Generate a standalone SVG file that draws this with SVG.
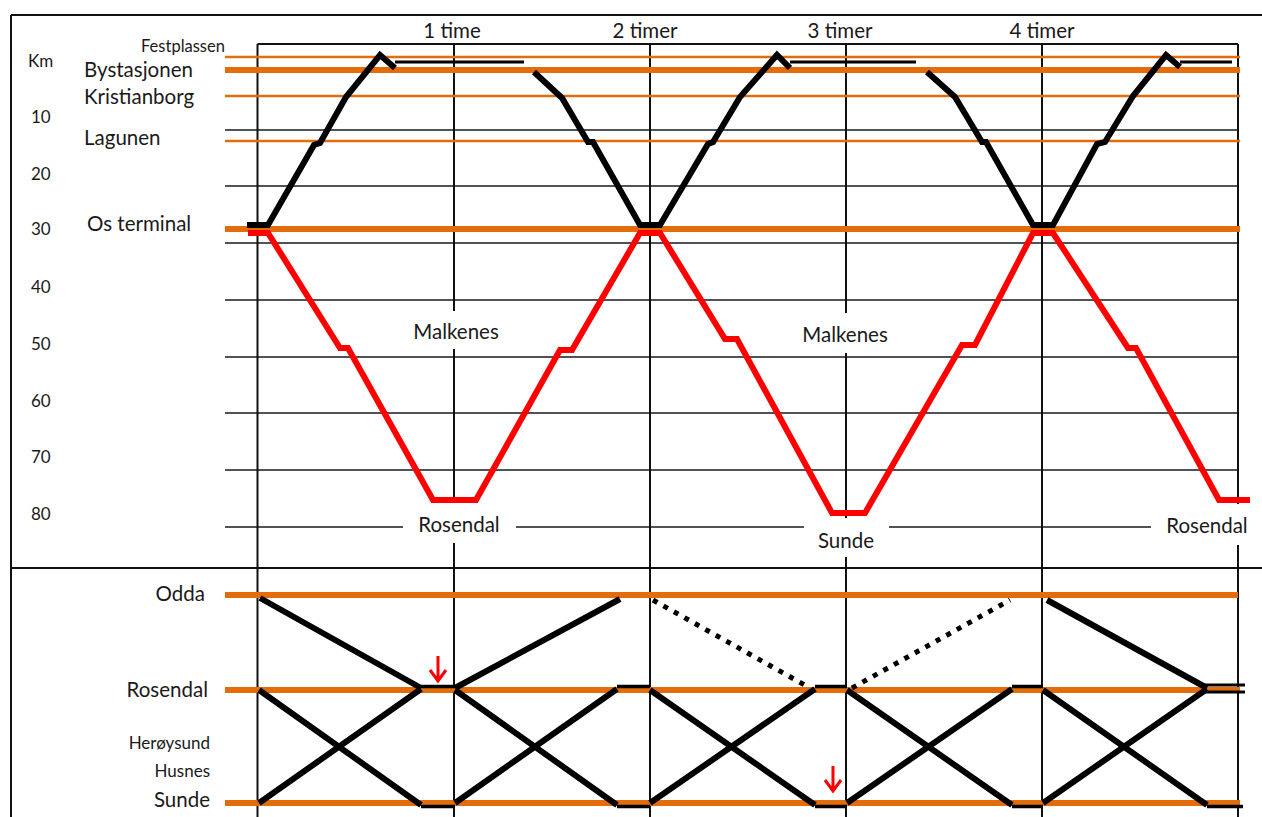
<svg xmlns="http://www.w3.org/2000/svg" width="1262" height="817" viewBox="0 0 1262 817">
<style>
text{font-family:Lato,"Liberation Sans",sans-serif;fill:#1a1a1a}
.l{font-size:20.5px}
.s{font-size:17px}
.m{text-anchor:middle}
.e{text-anchor:end}
.g{stroke:#1a1a1a;stroke-width:1.5;fill:none}
.v{stroke:#111;stroke-width:2;fill:none}
.ot{stroke:#E46C0A;stroke-width:2.5;fill:none}
.oT{stroke:#E46C0A;stroke-width:6;fill:none}
.bk{stroke:#000;stroke-width:6;fill:none;stroke-linejoin:miter}
.bt{stroke:#000;stroke-width:3;fill:none}
.bh{stroke:#000;stroke-width:3.5;fill:none}
.rd{stroke:#FF0000;stroke-width:6;fill:none;stroke-linejoin:miter}
.dot{stroke:#000;stroke-width:5;fill:none;stroke-dasharray:5 7}
.ar{stroke:#FF0000;stroke-width:3;fill:none}
</style>
<rect width="1262" height="817" fill="#fff"/>
<g id="frame">
<path class="v" d="M11,15 H1262 M11,15 V817 M11,568 H1262 M257.5,44 H1238"/>
</g>
<g id="grid">
<path class="g" d="M225,130 H1238 M225,186 H1238 M225,243 H1238 M225,300 H1238 M225,357 H1238 M225,413 H1238 M225,470 H1238 M225,527 H1238"/>
<path class="v" d="M257.5,44 V817 M454,44 V817 M650,44 V817 M846,44 V817 M1042,44 V817 M1238,44 V817"/>
</g>
<g id="labelboxes" fill="#fff">
<rect x="405" y="311" width="100" height="38"/>
<rect x="403" y="503" width="113" height="40"/>
<rect x="795" y="313" width="100" height="40"/>
<rect x="804" y="518" width="85" height="39"/>
<rect x="1151" y="504" width="111" height="41"/>
</g>
<g id="axis-labels">
<text class="s" x="28" y="67">Km</text>
<text class="s" x="31" y="123">10</text>
<text class="s" x="31" y="180">20</text>
<text class="s" x="31" y="235">30</text>
<text class="s" x="31" y="293">40</text>
<text class="s" x="31" y="350">50</text>
<text class="s" x="31" y="407">60</text>
<text class="s" x="31" y="463">70</text>
<text class="s" x="31" y="520">80</text>
<text class="l m" x="452" y="38">1 time</text>
<text class="l m" x="645" y="38">2 timer</text>
<text class="l m" x="840" y="38">3 timer</text>
<text class="l m" x="1042" y="38">4 timer</text>
</g>
<g id="stops-top">
<text x="141" y="52" style="font-size:16.5px">Festplassen</text>
<text class="l" x="84" y="77">Bystasjonen</text>
<text class="l" x="84" y="104">Kristianborg</text>
<text class="l" x="84" y="145">Lagunen</text>
<text class="l" x="87" y="231">Os terminal</text>
<text class="l m" x="456" y="339">Malkenes</text>
<text class="l m" x="845" y="342">Malkenes</text>
<text class="l m" x="459" y="532">Rosendal</text>
<text class="l m" x="846" y="548">Sunde</text>
<text class="l m" x="1207" y="533">Rosendal</text>
</g>
<g id="stops-bottom">
<text class="l e" x="205" y="601">Odda</text>
<text class="l e" x="208" y="697">Rosendal</text>
<text class="s e" x="210" y="749">Herøysund</text>
<text class="s e" x="210" y="777">Husnes</text>
<text class="l e" x="210" y="807">Sunde</text>
</g>
<g id="station-lines">
<path class="ot" d="M225,57 H1240 M225,96 H1240 M225,141 H1240"/>
<path class="oT" d="M225,70 H1240 M225,229 H1240 M225,595 H1238 M225,690 H1240 M225,803 H1240"/>
</g>
<g id="connectors">
<path class="rd" d="M248,233 H268 L340,348 H348 L433,500 H476 L560,350 H572 L640,233 H660 L725,339 H737 L832,513 H865 L962,345 H975 L1033,233 H1053 L1128,348 H1136 L1219,500 H1250"/>
<path class="bk" d="M247,225 H268 L314,145 L320,143 L346,97 L380,55 L395,68"/>
<path class="bt" d="M395,62 H524"/>
<path class="bk" d="M534,72 L562,98 L588,142 L593,142 L640,225 H660 L708,144 L713,142 L740,97 L777,55 L790,68"/>
<path class="bt" d="M790,62 H916"/>
<path class="bk" d="M927,72 L955,97 L982,142 L986,142 L1033,225 H1053 L1097,144 L1105,142 L1133,96 L1166,55 L1180,67"/>
<path class="bt" d="M1180,62 H1232"/>
<path class="bk" d="M260,598 L421,688 M455,688 L620,599 M1047,600 L1207,688"/>
<path class="dot" d="M653,600 L810,688 M852,688 L1010,600"/>
<path class="bk" d="M259,690 L421,805 M259,803 L421,689 M455,690 L617,805 M455,803 L617,689 M650,690 L815,805 M650,803 L815,689 M847,690 L1012,805 M847,803 L1012,689 M1043,690 L1207,805 M1043,803 L1207,689"/>
<path class="bh" d="M421,686.5 H455 M617,686.5 H650 M815,686.5 H847 M1012,686.5 H1043 M421,806.5 H455 M617,806.5 H650 M815,806.5 H847 M1012,806.5 H1043 M1207,806.5 H1243"/>
<path class="bt" d="M1205,685 H1245 M1205,692 H1245"/>
</g>
<g id="arrows">
<path class="ar" d="M438,656 V680 M430,670 L438,681 L446,670"/>
<path class="ar" d="M833,766 V790 M825,780 L833,791 L841,780"/>
</g>
</svg>
